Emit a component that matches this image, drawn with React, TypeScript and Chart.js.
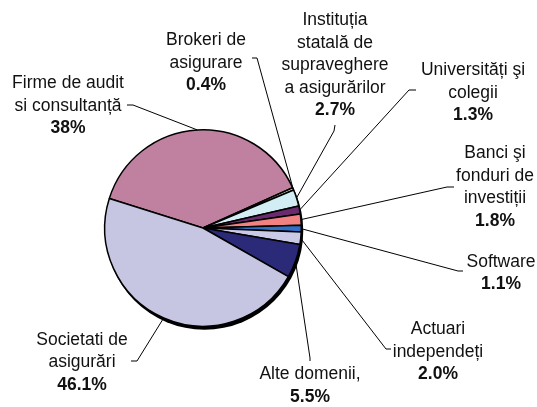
import React, { useEffect, useRef } from 'react';
import { Chart, registerables } from 'chart.js';

Chart.register(...registerables);

const categories = [
  'Firme de audit si consultanță',
  'Brokeri de asigurare',
  'Instituția statală de supraveghere a asigurărilor',
  'Universități şi colegii',
  'Banci şi fonduri de investiții',
  'Software',
  'Actuari independeți',
  'Alte domenii,',
  'Societati de asigurări',
];
const shares = [38, 0.4, 2.7, 1.3, 1.8, 1.1, 2.0, 5.5, 46.1];
const shareLabels = ['38%', '0.4%', '2.7%', '1.3%', '1.8%', '1.1%', '2.0%', '5.5%', '46.1%'];
const labelLines = [
  ['Firme de audit', 'si consultanță'],
  ['Brokeri de', 'asigurare'],
  ['Instituția', 'statală de', 'supraveghere', 'a asigurărilor'],
  ['Universități şi', 'colegii'],
  ['Banci şi', 'fonduri de', 'investiții'],
  ['Software'],
  ['Actuari', 'independeți'],
  ['Alte domenii,'],
  ['Societati de', 'asigurări'],
];
const sliceColors = [
  '#C0809F',
  '#F6F6C8',
  '#D2EEF4',
  '#6A2A6E',
  '#F28282',
  '#3170C4',
  '#CACAE6',
  '#2A2A78',
  '#C6C6E2',
];

// label block layout: cx = center x, y = first baseline, (ax,ay) leader start, (ex,ey) elbow
const labelLayout = [
  { cx: 68, y: 88, ax: 127, ay: 105, ex: 133, ey: 105 },
  { cx: 206, y: 45, ax: 252, ay: 58, ex: 257, ey: 58 },
  { cx: 335, y: 25, ax: 335, ay: 125, ex: 334, ey: 131 },
  { cx: 473, y: 75, ax: 416, ay: 90, ex: 409, ey: 90 },
  { cx: 495, y: 158, ax: 454, ay: 187, ex: 447, ey: 187 },
  { cx: 501, y: 266.5, ax: 463, ay: 271, ex: 458, ey: 271 },
  { cx: 438, y: 334, ax: 391, ay: 349, ex: 386, ey: 349 },
  { cx: 310, y: 379, ax: 310, ay: 361, ex: 310, ey: 358 },
  { cx: 82, y: 344.5, ax: 131, ay: 361, ex: 137, ey: 361 },
];

const FONT_SIZE = 17.5;
const LINE_PITCH = 22.5;
const FAMILY = '"Liberation Sans", Arial, sans-serif';

const shadowPlugin = {
  id: 'pieShadow',
  beforeDatasetsDraw(chart: any) {
    const arc = chart.getDatasetMeta(0).data[0];
    if (!arc) return;
    const ctx = chart.ctx;
    ctx.save();
    ctx.fillStyle = '#000';
    ctx.beginPath();
    ctx.arc(arc.x + 1.5, arc.y + 3, arc.outerRadius + 0.5, 0, Math.PI * 2);
    ctx.fill();
    ctx.restore();
  },
};

const labelPlugin = {
  id: 'pieLabels',
  afterDatasetsDraw(chart: any) {
    const ctx = chart.ctx;
    const meta = chart.getDatasetMeta(0);
    ctx.save();
    meta.data.forEach((arc: any, i: number) => {
      const lay = labelLayout[i];
      const mid = (arc.startAngle + arc.endAngle) / 2;
      const px = arc.x + Math.cos(mid) * arc.outerRadius;
      const py = arc.y + Math.sin(mid) * arc.outerRadius;
      ctx.strokeStyle = '#000';
      ctx.lineWidth = 1;
      ctx.beginPath();
      ctx.moveTo(lay.ax, lay.ay);
      ctx.lineTo(lay.ex, lay.ey);
      ctx.lineTo(px, py);
      ctx.stroke();

      ctx.fillStyle = '#111';
      ctx.textAlign = 'center';
      ctx.textBaseline = 'alphabetic';
      const lines = labelLines[i];
      lines.forEach((t, k) => {
        ctx.font = `${FONT_SIZE}px ${FAMILY}`;
        ctx.fillText(t, lay.cx, lay.y + k * LINE_PITCH);
      });
      ctx.font = `bold ${FONT_SIZE}px ${FAMILY}`;
      ctx.fillText(shareLabels[i], lay.cx, lay.y + lines.length * LINE_PITCH);
    });
    ctx.restore();
  },
};

export default function App() {
  const ref = useRef<HTMLCanvasElement>(null);
  useEffect(() => {
    document.body.style.margin = '0';
    const canvas = ref.current;
    if (!canvas) return;
    const chart = new Chart(canvas, {
      type: 'pie',
      data: {
        labels: categories,
        datasets: [
          {
            data: shares,
            backgroundColor: sliceColors,
            borderColor: '#000',
            borderWidth: 1.5,
          },
        ],
      },
      options: {
        responsive: false,
        animation: false,
        rotation: 287.5,
        layout: { padding: { left: 104, top: 129, right: 235, bottom: 80 } },
        plugins: {
          legend: { display: false },
          tooltip: { enabled: false },
          title: { display: false },
        },
      },
      plugins: [shadowPlugin, labelPlugin],
    });
    return () => chart.destroy();
  }, []);
  return (
    <div style={{ width: 537, height: 407, background: '#fff' }}>
      <canvas ref={ref} width={537} height={407} style={{ display: 'block' }} />
    </div>
  );
}
